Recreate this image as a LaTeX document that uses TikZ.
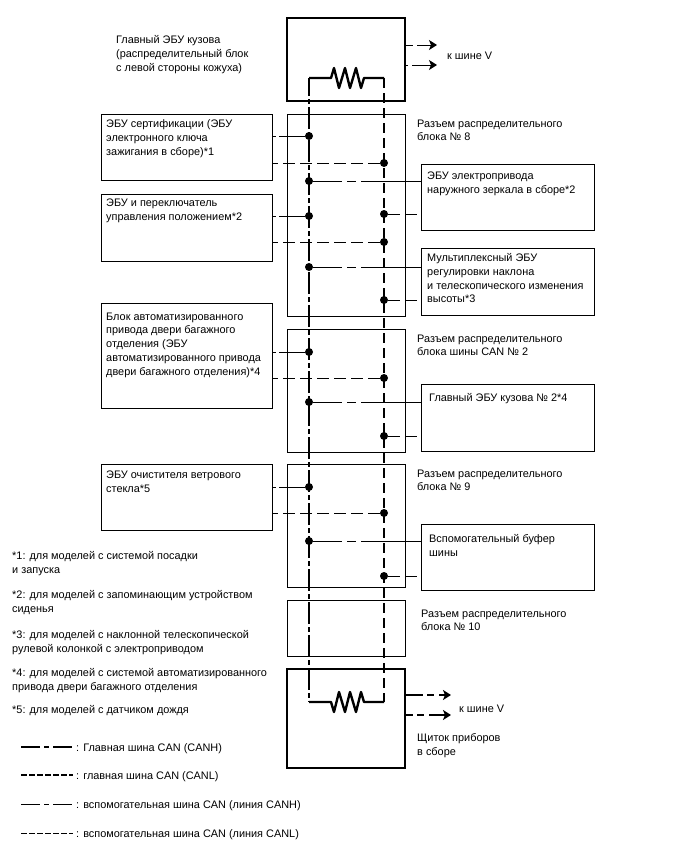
\documentclass[tikz,border=0pt]{standalone}
\usepackage{fontspec}
\setmainfont{Liberation Sans}
\usetikzlibrary{arrows.meta}
\begin{document}
\begin{tikzpicture}
	[x=1pt,y=-1pt,
	thickbox/.style={draw,line width=2.4pt,minimum width=118pt,inner sep=0pt},
	thinbox/.style={draw,line width=1pt,inner sep=0pt},
	lbl/.style={anchor=north west,inner sep=0pt,yshift=-1.5pt,align=left,font=\fontsize{10.9}{13.7}\selectfont},
	dot/.style={circle,fill=black,inner sep=0pt,minimum size=8pt},
	mainh/.style={line width=2.4pt,dash pattern=on 22pt off 3pt on 5pt off 3pt,dash phase=4pt},
	mainl/.style={line width=2.4pt,dash pattern=on 10pt off 5pt},
	subh/.style={line width=1pt,dash pattern=on 29pt off 5pt on 9pt off 5pt on 60pt off 0pt},
	subhl/.style={line width=1pt,dash pattern=on 26pt off 3pt on 7pt off 0pt},
	subl/.style={line width=1pt,dash pattern=on 12pt off 5pt},
	tip/.style={-{Stealth[length=8pt,width=10pt,inset=2pt]}}]
	\useasboundingbox (0,0) rectangle (688,852);
	% control units on the bus ends
	\node[thickbox,minimum height=83pt] (BodyEcu) at (346,59.5) {};
	\node[thickbox,minimum height=99pt] (Meter) at (346,718.5) {};
	% junction blocks
	\node[thinbox,minimum width=118pt,minimum height=202pt] (JB8) at (346,215) {};
	\node[thinbox,minimum width=118pt,minimum height=123pt] (JB2) at (346,390.5) {};
	\node[thinbox,minimum width=118pt,minimum height=123pt] (JB9) at (346,525.5) {};
	\node[thinbox,minimum width=118pt,minimum height=56pt] (JB10) at (346,628) {};
	% left boxes
	\node[thinbox,minimum width=171pt,minimum height=66pt] (Cert) at (186.5,147) {};
	\node[thinbox,minimum width=171pt,minimum height=67pt] (Pos) at (186.5,227.5) {};
	\node[thinbox,minimum width=171pt,minimum height=105pt] (Door) at (186.5,355.5) {};
	\node[thinbox,minimum width=171pt,minimum height=66pt] (Wiper) at (186.5,497) {};
	% right boxes
	\node[thinbox,minimum width=173pt,minimum height=66pt] (Mirror) at (507.5,197) {};
	\node[thinbox,minimum width=173pt,minimum height=67pt] (Tilt) at (507.5,281.5) {};
	\node[thinbox,minimum width=173pt,minimum height=67pt] (BodyTwo) at (507.5,417.5) {};
	\node[thinbox,minimum width=173pt,minimum height=66pt] (Buffer) at (507.5,557) {};
	% bus wires and resistors
	\coordinate (HT) at (309,78);
	\coordinate (LT) at (384,78);
	\coordinate (HB) at (309,702);
	\coordinate (LB) at (384,702);
	\draw[mainh] (HT) -- (HB);
	\draw[mainl] (LT) -- (LB);
	\draw[line width=2.4pt,line join=round] (HT) -- (331,78) -- (334,68) -- (339,88) -- (345,68) -- (350,88) -- (356,68) -- (361,88) -- (364,78) -- (LT);
	\draw[line width=2.4pt,line join=round] (HB) -- (331,702) -- (334,712) -- (339,692) -- (345,712) -- (350,692) -- (356,712) -- (361,692) -- (364,702) -- (LB);
	% junction dots
	\node[dot] (A) at (309,136) {};
	\node[dot] (B) at (384,163) {};
	\node[dot] (C) at (309,181) {};
	\node[dot] (D) at (384,214) {};
	\node[dot] (E) at (309,216) {};
	\node[dot] (F) at (384,242) {};
	\node[dot] (G) at (309,267) {};
	\node[dot] (H) at (384,300) {};
	\node[dot] (I) at (309,352) {};
	\node[dot] (J) at (384,378) {};
	\node[dot] (K) at (309,402) {};
	\node[dot] (L) at (384,436) {};
	\node[dot] (M) at (309,487) {};
	\node[dot] (N) at (384,513) {};
	\node[dot] (O) at (309,541) {};
	\node[dot] (P) at (384,576) {};
	% stubs
	\draw[subhl] (A) -- (A -| Cert.east);
	\draw[subl] (B) -- (B -| Cert.east);
	\draw[subh] (C) -- (C -| Mirror.west);
	\draw[subl] (D) -- (D -| Mirror.west);
	\draw[subhl] (E) -- (E -| Pos.east);
	\draw[subl] (F) -- (F -| Pos.east);
	\draw[subh] (G) -- (G -| Tilt.west);
	\draw[subl] (H) -- (H -| Tilt.west);
	\draw[subhl] (I) -- (I -| Door.east);
	\draw[subl] (J) -- (J -| Door.east);
	\draw[subh] (K) -- (K -| BodyTwo.west);
	\draw[subl] (L) -- (L -| BodyTwo.west);
	\draw[subhl] (M) -- (M -| Wiper.east);
	\draw[subl] (N) -- (N -| Wiper.east);
	\draw[subh] (O) -- (O -| Buffer.west);
	\draw[subl] (P) -- (P -| Buffer.west);
	% arrows to bus V
	\coordinate (VA) at (437,45);
	\coordinate (VB) at (437,65);
	\coordinate (VC) at (451,695);
	\coordinate (VD) at (451,715);
	\draw[tip,line width=1pt,dash pattern=on 7pt off 4pt on 30pt off 0pt] (BodyEcu.east |- VA) -- (VA);
	\draw[tip,line width=1pt,dash pattern=on 2pt off 4pt on 30pt off 0pt] (BodyEcu.east |- VB) -- (VB);
	\draw[tip,line width=2pt,dash pattern=on 17pt off 4pt on 7pt off 5pt on 20pt off 0pt] (Meter.east |- VC) -- (VC);
	\draw[tip,line width=2pt,dash pattern=on 7pt off 4pt on 7pt off 5pt on 20pt off 0pt] (Meter.east |- VD) -- (VD);
	% labels
	\node[lbl] (tBody) at (116,34) {Главный ЭБУ кузова\\(распределительный блок\\с левой стороны кожуха)};
	\node[lbl] (tVa) at (447,50) {к шине V};
	\node[lbl] (tJB8) at (417,118) {Разъем распределительного\\блока № 8};
	\node[lbl] (tCert) at (106,118) {ЭБУ сертификации (ЭБУ\\электронного ключа\\зажигания в сборе)*1};
	\node[lbl] (tMirror) at (427,170) {ЭБУ электропривода\\наружного зеркала в сборе*2};
	\node[lbl] (tPos) at (106,197) {ЭБУ и переключатель\\управления положением*2};
	\node[lbl] (tTilt) at (427,252) {Мультиплексный ЭБУ\\регулировки наклона\\и телескопического изменения\\высоты*3};
	\node[lbl] (tDoor) at (106,311) {Блок автоматизированного\\привода двери багажного\\отделения (ЭБУ\\автоматизированного привода\\двери багажного отделения)*4};
	\node[lbl] (tJB2) at (417,333) {Разъем распределительного\\блока шины CAN № 2};
	\node[lbl] (tBodyTwo) at (429,392) {Главный ЭБУ кузова № 2*4};
	\node[lbl] (tWiper) at (106,469) {ЭБУ очистителя ветрового\\стекла*5};
	\node[lbl] (tJB9) at (417,468) {Разъем распределительного\\блока № 9};
	\node[lbl] (tBuffer) at (429,533) {Вспомогательный буфер\\шины};
	\node[lbl] (tJB10) at (421,608) {Разъем распределительного\\блока № 10};
	\node[lbl] (tVb) at (459,703) {к шине V};
	\node[lbl] (tMeter) at (417,732) {Щиток приборов\\в сборе};
	% footnotes
	\node[lbl] (nOne) at (12,550) {*1: для моделей с системой посадки\\и запуска};
	\node[lbl] (nTwo) at (12,589) {*2: для моделей с запоминающим устройством\\сиденья};
	\node[lbl] (nThree) at (12,629) {*3: для моделей с наклонной телескопической\\рулевой колонкой с электроприводом};
	\node[lbl] (nFour) at (12,667) {*4: для моделей с системой автоматизированного\\привода двери багажного отделения};
	\node[lbl] (nFive) at (12,704) {*5: для моделей с датчиком дождя};
	% legend
	\node[lbl] (legA) at (76,742) {: Главная шина CAN (CANH)};
	\node[lbl] (legB) at (76,770) {: главная шина CAN (CANL)};
	\node[lbl] (legC) at (76,799) {: вспомогательная шина CAN (линия CANH)};
	\node[lbl] (legD) at (76,828) {: вспомогательная шина CAN (линия CANL)};
	\coordinate (legAs) at (21,747);
	\coordinate (legBs) at (21,775);
	\coordinate (legCs) at (21,804);
	\coordinate (legDs) at (21,833);
	\draw[line width=2.2pt,shorten >=3pt,dash pattern=on 19pt off 4pt on 5pt off 4pt] (legAs) -- (legAs -| legA.west);
	\draw[line width=2.2pt,shorten >=3pt,dash pattern=on 6pt off 2pt] (legBs) -- (legBs -| legB.west);
	\draw[line width=1pt,shorten >=3pt,dash pattern=on 19pt off 4pt on 5pt off 4pt] (legCs) -- (legCs -| legC.west);
	\draw[line width=1pt,shorten >=3pt,dash pattern=on 6pt off 2pt] (legDs) -- (legDs -| legD.west);
\end{tikzpicture}
\end{document}
